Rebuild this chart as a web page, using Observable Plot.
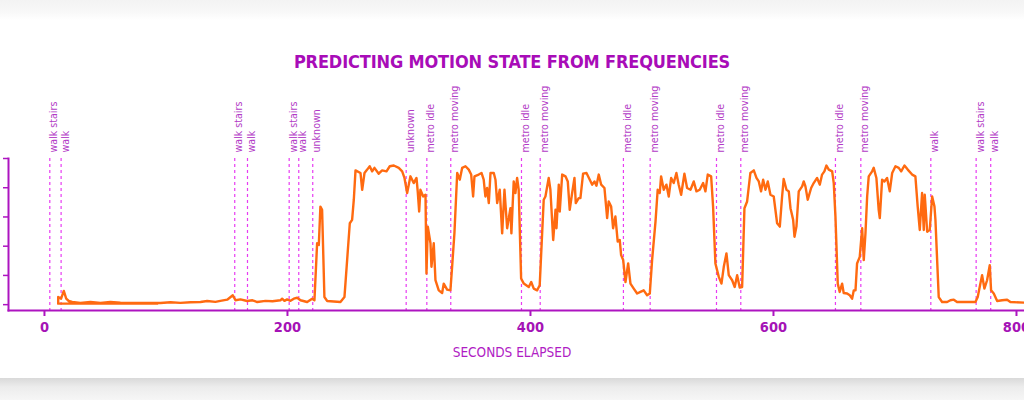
<!DOCTYPE html>
<html>
<head>
<meta charset="utf-8">
<script src="https://cdn.jsdelivr.net/npm/d3@7"></script>
<script src="https://cdn.jsdelivr.net/npm/@observablehq/plot@0.6"></script>
<style>
  html, body { margin: 0; padding: 0; width: 1024px; height: 400px; overflow: hidden; background: #fff; }
  #topshade { position: absolute; left: 0; top: 0; width: 1024px; height: 20px; background: linear-gradient(#f3f3f3, #f8f8f8 60%, #ffffff); }
  #bottomshade { position: absolute; left: 0; top: 378px; width: 1024px; height: 22px; background: linear-gradient(#d9d9d9, #ececec 40%, #f6f6f6); }
  #title { position: absolute; left: 0; top: 51px; width: 1024px; text-align: center; font: bold 18px "Liberation Sans Narrow", "DejaVu Sans Condensed", "Liberation Sans", sans-serif; letter-spacing: -0.15px; color: #a80cb8; line-height: 22px; }
  #chart { position: absolute; left: 0; top: 80px; }
  #xlabel { position: absolute; left: 0; top: 344px; width: 1024px; text-align: center; font: 13.5px "Liberation Sans Narrow", "DejaVu Sans Condensed", "Liberation Sans", sans-serif; color: #b01cc4; line-height: 16px; }
</style>
</head>
<body>
<div id="topshade"></div>
<div id="bottomshade"></div>
<div id="title">PREDICTING MOTION STATE FROM FREQUENCIES</div>
<div id="chart"></div>
<div id="xlabel">SECONDS ELAPSED</div>
<script>
// ---- data ----
const elapsed = [
  92.8, 11.3, 11.3, 13.7, 15.9, 17.9, 20.0, 22.8, 29.6, 37.9, 46.1, 54.3, 62.5, 70.8, 79.0, 87.2, 95.5,
  103.7, 111.9, 120.2, 128.4, 133.9, 140.7, 144.8, 150.4, 155.0, 157.2, 161.3, 166.8, 171.2, 175.1,
  181.9, 187.6, 194.2, 195.6, 197.5, 199.7, 202.5, 205.2, 208.0, 210.7, 216.2, 220.3, 222.2, 224.4,
  225.8, 227.1, 228.5, 230.4, 232.7, 243.6, 246.9, 251.3, 253.2, 254.6, 256.0, 260.1, 261.5, 263.4,
  265.6, 267.7, 269.7, 271.6, 275.1, 277.9, 281.5, 284.2, 287.5, 291.6, 294.4, 296.3, 298.5, 301.2,
  303.9, 306.2, 307.2, 308.4, 309.4, 311.7, 313.6, 314.4, 315.5, 317.7, 318.5, 320.4, 321.8, 324.5,
  327.3, 328.6, 331.4, 334.1, 335.5, 337.4, 339.7, 341.8, 343.8, 346.5, 349.2, 351.2, 352.8, 353.9,
  357.4, 359.7, 361.5, 362.9, 364.3, 365.7, 367.1, 369.8, 371.2, 372.6, 374.7, 376.7, 378.6, 380.8,
  383.5, 384.3, 386.2, 387.6, 389.0, 390.3, 392.3, 394.5, 398.6, 400.6, 402.7, 405.5, 407.6, 410.9,
  412.3, 415.0, 416.4, 418.7, 420.6, 421.4, 423.3, 424.1, 426.1, 428.8, 430.7, 432.3, 434.3, 436.2,
  437.3, 439.7, 441.1, 443.3, 446.1, 448.8, 450.8, 452.7, 454.3, 456.2, 458.2, 460.9, 463.1, 464.4,
  466.4, 468.0, 469.9, 471.8, 473.5, 474.6, 476.3, 478.2, 480.4, 482.3, 485.0, 487.8, 490.5, 493.2,
  496.0, 498.2, 500.1, 502.9, 504.7, 506.4, 507.5, 509.7, 511.9, 513.8, 515.8, 517.9, 520.1, 522.0,
  524.0, 526.7, 528.9, 531.7, 534.4, 536.6, 539.3, 542.1, 544.0, 545.9, 548.7, 550.3, 552.2, 555.0,
  557.2, 559.1, 561.3, 563.2, 566.0, 568.1, 570.1, 572.2, 574.2, 576.1, 578.3, 581.0, 583.8, 586.0,
  587.9, 589.8, 591.5, 593.4, 595.3, 597.5, 600.2, 603.0, 605.2, 607.1, 608.4, 610.7, 612.6, 614.0,
  616.2, 617.3, 618.9, 620.8, 623.6, 624.9, 626.3, 628.2, 631.0, 633.1, 635.9, 638.1, 640.0, 641.9,
  643.6, 645.5, 648.3, 649.6, 651.0, 652.9, 654.5, 656.5, 657.8, 660.6, 662.8, 664.7, 666.1, 667.5,
  668.8, 671.0, 673.0, 674.3, 675.7, 677.1, 678.4, 681.2, 682.5, 684.7, 686.6, 687.5, 689.4, 691.3,
  693.5, 695.7, 697.7, 700.4, 703.1, 705.1, 707.8, 710.5, 714.1, 716.8, 718.7, 720.4, 722.3, 723.7,
  724.5, 726.5, 728.6, 730.6, 732.5, 733.3, 734.7, 736.0, 738.8, 742.9, 745.6, 748.4, 751.1, 759.4,
  766.2, 768.1, 770.3, 771.7, 773.6, 775.8, 778.0, 779.1, 781.3, 784.1, 788.2, 792.3, 795.0, 806.5
];
const motionScore = [
  0.007, 0.007, 0.052, 0.041, 0.094, 0.041, 0.025, 0.018, 0.011, 0.018, 0.012, 0.019, 0.014, 0.011, 0.012, 0.011, 0.011,
  0.016, 0.012, 0.016, 0.018, 0.025, 0.019, 0.026, 0.034, 0.064, 0.030, 0.036, 0.025, 0.030, 0.018,
  0.026, 0.023, 0.030, 0.041, 0.026, 0.036, 0.026, 0.041, 0.047, 0.030, 0.018, 0.041, 0.030, 0.420,
  0.408, 0.671, 0.649, 0.052, 0.025, 0.018, 0.052, 0.557, 0.580, 0.718, 0.919, 0.901, 0.786, 0.901,
  0.924, 0.947, 0.912, 0.936, 0.896, 0.919, 0.912, 0.947, 0.952, 0.936, 0.912, 0.867, 0.764, 0.878,
  0.832, 0.867, 0.775, 0.637, 0.786, 0.740, 0.752, 0.213, 0.534, 0.420, 0.259, 0.420, 0.167, 0.098,
  0.080, 0.144, 0.103, 0.098, 0.259, 0.488, 0.901, 0.855, 0.936, 0.947, 0.924, 0.890, 0.740, 0.878,
  0.890, 0.901, 0.855, 0.740, 0.798, 0.695, 0.901, 0.901, 0.855, 0.695, 0.786, 0.488, 0.786, 0.523,
  0.660, 0.488, 0.843, 0.764, 0.867, 0.786, 0.179, 0.144, 0.121, 0.155, 0.110, 0.098, 0.133, 0.718,
  0.740, 0.867, 0.786, 0.442, 0.649, 0.523, 0.821, 0.637, 0.890, 0.878, 0.843, 0.649, 0.764, 0.867,
  0.695, 0.729, 0.729, 0.896, 0.901, 0.855, 0.821, 0.843, 0.814, 0.890, 0.821, 0.798, 0.592, 0.706,
  0.671, 0.523, 0.603, 0.431, 0.442, 0.339, 0.305, 0.155, 0.282, 0.144, 0.110, 0.076, 0.087, 0.098,
  0.064, 0.076, 0.305, 0.568, 0.786, 0.764, 0.878, 0.786, 0.821, 0.740, 0.867, 0.832, 0.901, 0.821,
  0.752, 0.896, 0.798, 0.786, 0.843, 0.775, 0.786, 0.832, 0.775, 0.890, 0.878, 0.671, 0.282, 0.190,
  0.144, 0.259, 0.351, 0.202, 0.167, 0.121, 0.202, 0.117, 0.121, 0.660, 0.706, 0.901, 0.919, 0.867,
  0.843, 0.775, 0.855, 0.786, 0.843, 0.752, 0.740, 0.557, 0.534, 0.740, 0.860, 0.786, 0.775, 0.660,
  0.580, 0.465, 0.534, 0.775, 0.809, 0.843, 0.809, 0.718, 0.798, 0.832, 0.867, 0.821, 0.890, 0.912,
  0.952, 0.924, 0.912, 0.832, 0.603, 0.144, 0.087, 0.144, 0.080, 0.076, 0.064, 0.041, 0.098, 0.098,
  0.282, 0.327, 0.523, 0.305, 0.488, 0.740, 0.878, 0.912, 0.936, 0.867, 0.649, 0.592, 0.855, 0.843,
  0.867, 0.775, 0.901, 0.947, 0.936, 0.912, 0.952, 0.924, 0.890, 0.878, 0.671, 0.511, 0.764, 0.511,
  0.752, 0.499, 0.511, 0.740, 0.671, 0.580, 0.305, 0.052, 0.018, 0.018, 0.030, 0.034, 0.018, 0.018,
  0.018, 0.052, 0.144, 0.202, 0.110, 0.167, 0.270, 0.098, 0.076, 0.025, 0.030, 0.034, 0.018, 0.014
];
const eventSeconds = [4.4, 13.7, 156.6, 167.1, 201.4, 209.3, 220.8, 297.7, 314.7, 334.4, 392.6, 408.0,
  476.5, 498.5, 553.1, 573.1, 651.0, 671.9, 729.5, 766.8, 778.8];
const eventLabels = ["walk stairs", "walk", "walk stairs", "walk", "walk stairs", "walk", "unknown",
  "unknown", "metro idle", "metro moving", "metro idle", "metro moving", "metro idle", "metro moving",
  "metro idle", "metro moving", "metro idle", "metro moving", "walk", "walk stairs", "walk"];
const xTicks = [0, 200, 400, 600, 800];
const yTicks = [0, 0.2, 0.4, 0.6, 0.8, 1.0];

// ---- build ----
const series = elapsed.map((t, i) => ({t, v: motionScore[i]}));
const events = eventSeconds.map((t, i) => ({t, label: eventLabels[i]}));
const purple = "#ad14c0";
const font = '"Liberation Sans Narrow", "DejaVu Sans Condensed", "Liberation Sans", sans-serif';

const chart = Plot.plot({
  width: 1024,
  height: 290,
  marginLeft: 8,
  marginRight: 0,
  marginTop: 78,
  marginBottom: 60,
  style: {fontFamily: font, background: "transparent", color: purple, overflow: "hidden"},
  x: {domain: [-29.6, 806.6], axis: null},
  y: {domain: [-0.04, 1.0], axis: null},
  marks: [
    Plot.ruleX(events, {x: "t", stroke: "#e83cf2", strokeWidth: 1.2, strokeDasharray: "3,3"}),
    Plot.text(events, {x: "t", text: "label", frameAnchor: "top", rotate: -90, textAnchor: "start",
      dy: -6, fill: "#b23ac6", fontSize: 10.6, fontFamily: font}),
    Plot.line(series, {x: "t", y: "v", stroke: "#ff6a10", strokeWidth: 2.4, strokeLinejoin: "round"}),
    Plot.axisY({ticks: yTicks, tickSize: 5, tickFormat: () => "", label: null, stroke: purple, strokeWidth: 1.5}),
    Plot.axisX({ticks: xTicks, tickSize: 6, tickPadding: 5, tickFormat: d => String(d), label: null,
      stroke: purple, strokeWidth: 2, fill: "#a513b6", fontSize: 14.5, fontWeight: "bold", fontFamily: font}),
    Plot.frame({anchor: "left", stroke: purple, strokeWidth: 2}),
    Plot.frame({anchor: "bottom", stroke: purple, strokeWidth: 2})
  ]
});
d3.select(chart).selectAll('g[aria-label="x-axis tick label"] text').attr("font-weight", "bold");
document.getElementById("chart").appendChild(chart);
</script>
</body>
</html>
